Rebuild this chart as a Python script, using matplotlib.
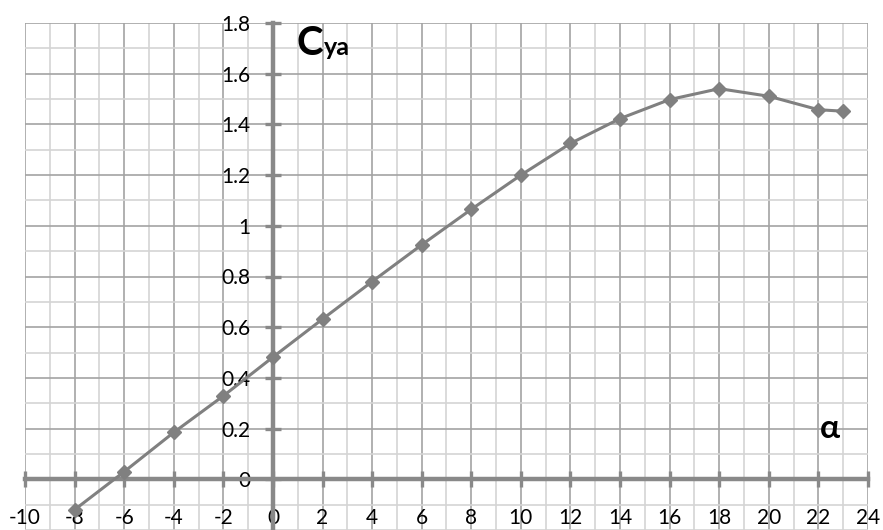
import matplotlib.pyplot as plt
from matplotlib.ticker import MultipleLocator

# angle of attack and lift coefficient
alpha = [-8, -6, -4, -2, 0, 2, 4, 6, 8, 10, 12, 14, 16, 18, 20, 22, 23]
cya = [-0.12, 0.03, 0.185, 0.329, 0.482, 0.632, 0.78, 0.925, 1.065, 1.2,
       1.325, 1.423, 1.498, 1.541, 1.511, 1.458, 1.452]

x_ticks = list(range(-10, 25, 2))
y_ticks = [0, 0.2, 0.4, 0.6, 0.8, 1, 1.2, 1.4, 1.6, 1.8]
y_labels = ['0', '0.2', '0.4', '0.6', '0.8', '1', '1.2', '1.4', '1.6', '1.8']

plt.rcParams['font.family'] = ['Lato', 'DejaVu Sans']

fig = plt.figure(figsize=(8.83, 5.30), dpi=100)
ax = fig.add_axes([25 / 883, 0.0, 843 / 883, 507 / 530])

ax.set_xlim(-10, 24)
ax.set_ylim(-0.2, 1.8)

ax.xaxis.set_major_locator(MultipleLocator(2))
ax.xaxis.set_minor_locator(MultipleLocator(1))
ax.yaxis.set_major_locator(MultipleLocator(0.2))
ax.yaxis.set_minor_locator(MultipleLocator(0.1))
ax.grid(which='major', color='#a3a3a3', lw=1.2)
ax.grid(which='minor', color='#d4d4d4', lw=1.2)
ax.set_axisbelow(True)
for gl in ax.get_xgridlines() + ax.get_ygridlines():
    gl.set_clip_on(False)

ax.spines['left'].set_position(('data', 0))
ax.spines['bottom'].set_position(('data', 0))
ax.spines['top'].set_visible(False)
ax.spines['right'].set_visible(False)
for s in ('left', 'bottom'):
    ax.spines[s].set_color('#898989')
    ax.spines[s].set_linewidth(3.2)
    ax.spines[s].set_zorder(1.5)

ax.set_xticks(x_ticks)
ax.set_xticklabels([str(v) for v in x_ticks])
ax.set_yticks(y_ticks)
ax.set_yticklabels(y_labels)
ax.tick_params(which='major', direction='inout', length=12, width=2.4,
               color='#898989', labelsize=15, labelcolor='black')
ax.tick_params(axis='x', which='major', pad=15)
ax.tick_params(axis='y', which='major', pad=10)
ax.tick_params(which='minor', length=0)

ax.plot(alpha, cya, color='#808080', lw=2.2, marker='D', markersize=7.5,
        zorder=3, clip_on=False)

ax.text(0.322, 0.937, 'C', transform=ax.transAxes, fontsize=29,
        fontweight='bold', va='baseline', ha='left')
ax.text(0.355, 0.937, 'ya', transform=ax.transAxes, fontsize=18,
        fontweight='bold', va='baseline', ha='left')
ax.text(0.955, 0.201, 'α', transform=ax.transAxes, fontsize=24,
        fontweight='bold', va='center', ha='center')

fig.savefig('out.png', dpi=100)
